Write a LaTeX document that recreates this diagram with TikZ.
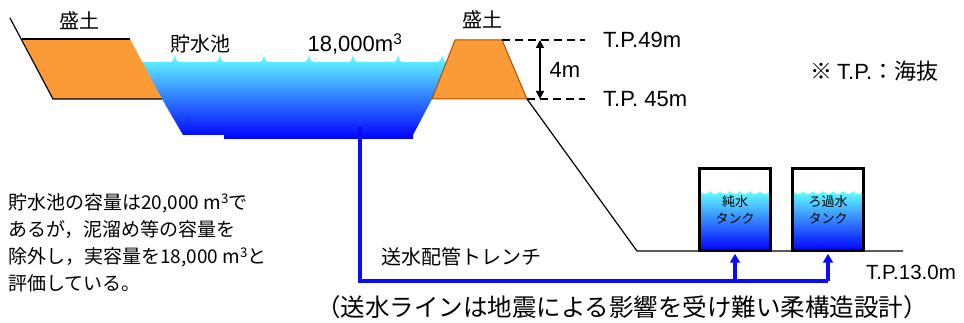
\documentclass[tikz,border=0pt]{standalone}
\usepackage{fontspec}
\setmainfont{Noto Sans CJK JP}
\newfontfamily\latinfont{Liberation Sans}
\usetikzlibrary{arrows.meta}

\definecolor{bank}{RGB}{250,155,55}
\definecolor{bankline}{RGB}{170,80,0}
\definecolor{wtop}{RGB}{100,255,255}
\definecolor{wbot}{RGB}{0,0,255}
\definecolor{pipeblue}{RGB}{10,10,255}

\tikzset{
  txt/.style={inner sep=0pt, font=\fontsize{20}{24}\selectfont},
  lat/.style={inner sep=0pt, font=\fontsize{22}{26}\latinfont},
  note/.style={inner sep=0pt, align=left, font=\fontsize{19}{27}\selectfont},
  water/.style={top color=wtop, bottom color=wbot},
  tank/.style={draw, line width=3.5pt, minimum width=71pt, minimum height=82pt,
    inner sep=0pt, align=center, font=\fontsize{13}{17}\selectfont},
  ground/.style={line width=1.2pt},
  level/.style={line width=1.5pt, dash pattern=on 8pt off 5pt},
  dim/.style={line width=1.5pt, {Triangle[width=8pt,length=8pt]}-{Triangle[width=8pt,length=8pt]}},
  pipe/.style={draw=pipeblue, line width=4pt},
  feed/.style={draw=pipeblue, line width=3.5pt, -{Triangle[width=10pt,length=9pt]}, shorten >=1.5pt}
}

\begin{document}
\begin{tikzpicture}[x=1pt,y=-1pt]
\useasboundingbox (0,0) rectangle (964,323);

% pond water
\shade[water] (140,62)
  \foreach \p in {175,220,264,309,353,398,442} {
    -- ({\p-8},62) .. controls ({\p-2},62) .. (\p,55) .. controls ({\p+2},62) .. ({\p+8},62) }
  -- (450,62) -- (432,99) -- (413,135) -- (413,139) -- (224,139) -- (224,135)
  -- (183,135) -- (162,99) -- cycle;

% embankments
\fill[bank] (22,39) -- (130,39) -- (162,99) -- (53,99) -- cycle;
\draw[ground] (130,39) -- (22,39);
\draw[ground] (10,18) -- (53,99) -- (162,99);
\coordinate (crestR) at (502,40);
\coordinate (toeR) at (527,99);
\filldraw[fill=bank, draw=bankline, line width=1pt] (455,40) -- (crestR) -- (toeR) -- (432,99) -- cycle;

% ground down to the tank yard
\draw[ground] (toeR) -- (637,251) -- (903,251);

% tank water
\shade[water] (700,251) -- (700,191)
  \foreach \p in {700,710,...,760} {
    .. controls ({\p+2},195) and ({\p+8},195) .. ({\p+10},191) } -- (770,251) -- cycle;
\shade[water] (793,251) -- (793,191)
  \foreach \p in {793,803,...,853} {
    .. controls ({\p+2},195) and ({\p+8},195) .. ({\p+10},191) } -- (863,251) -- cycle;

\node[tank] (puretank) at (735,209.5) {純水\\タンク};
\node[tank] (filtertank) at (828,209.5) {ろ過水\\タンク};

% labels
\node[txt] (bankLlbl) at (79,21) {盛土};
\node[txt] (bankRlbl) at (482,20) {盛土};
\node[txt] (pondlbl) at (200,44) {貯水池};
\node[lat] (vollbl) at (355,44) {18,000m\textsuperscript{3}};
\node[lat, anchor=west] (tp49) at (603,40) {T.P.49m};
\node[lat, anchor=west] (tp45) at (603,99) {T.P. 45m};
\node[lat] (hgt) at (565,70) {4m};
\node[txt, font=\fontsize{22}{26}\selectfont, anchor=west] (tpnote) at (810,71)
  {※ {\latinfont T.P.}：海抜};

\draw[level] (crestR) -- ([xshift=-18pt]tp49.west);
\draw[level] (toeR) -- ([xshift=-18pt]tp45.west);
\draw[dim] (540,40) -- (540,99);

\node[note, anchor=west] (capnote) at (8,243)
  {貯水池の容量は20,000 m\textsuperscript{3}で\\あるが，泥溜め等の容量を\\除外し，実容量を18,000 m\textsuperscript{3}と\\評価している。};

% delivery pipe
\coordinate (outlet) at (360,127);
\coordinate (trench) at (360,281);
\draw[pipe] (outlet) -- (trench) -- (filtertank.south |- trench);
\draw[feed] (filtertank.south |- trench) -- (filtertank.south);
\draw[feed] (puretank.south |- trench) -- (puretank.south);

\node[txt] (trenchlbl) at (461,257) {送水配管トレンチ};
\node[lat, font=\fontsize{20.5}{24}\latinfont, anchor=west] (tp13) at (866,272) {T.P.13.0m};
\node[txt, font=\fontsize{24.5}{28}\selectfont] (design) at (622,307)
  {（送水ラインは地震による影響を受け難い柔構造設計）};
\end{tikzpicture}
\end{document}
